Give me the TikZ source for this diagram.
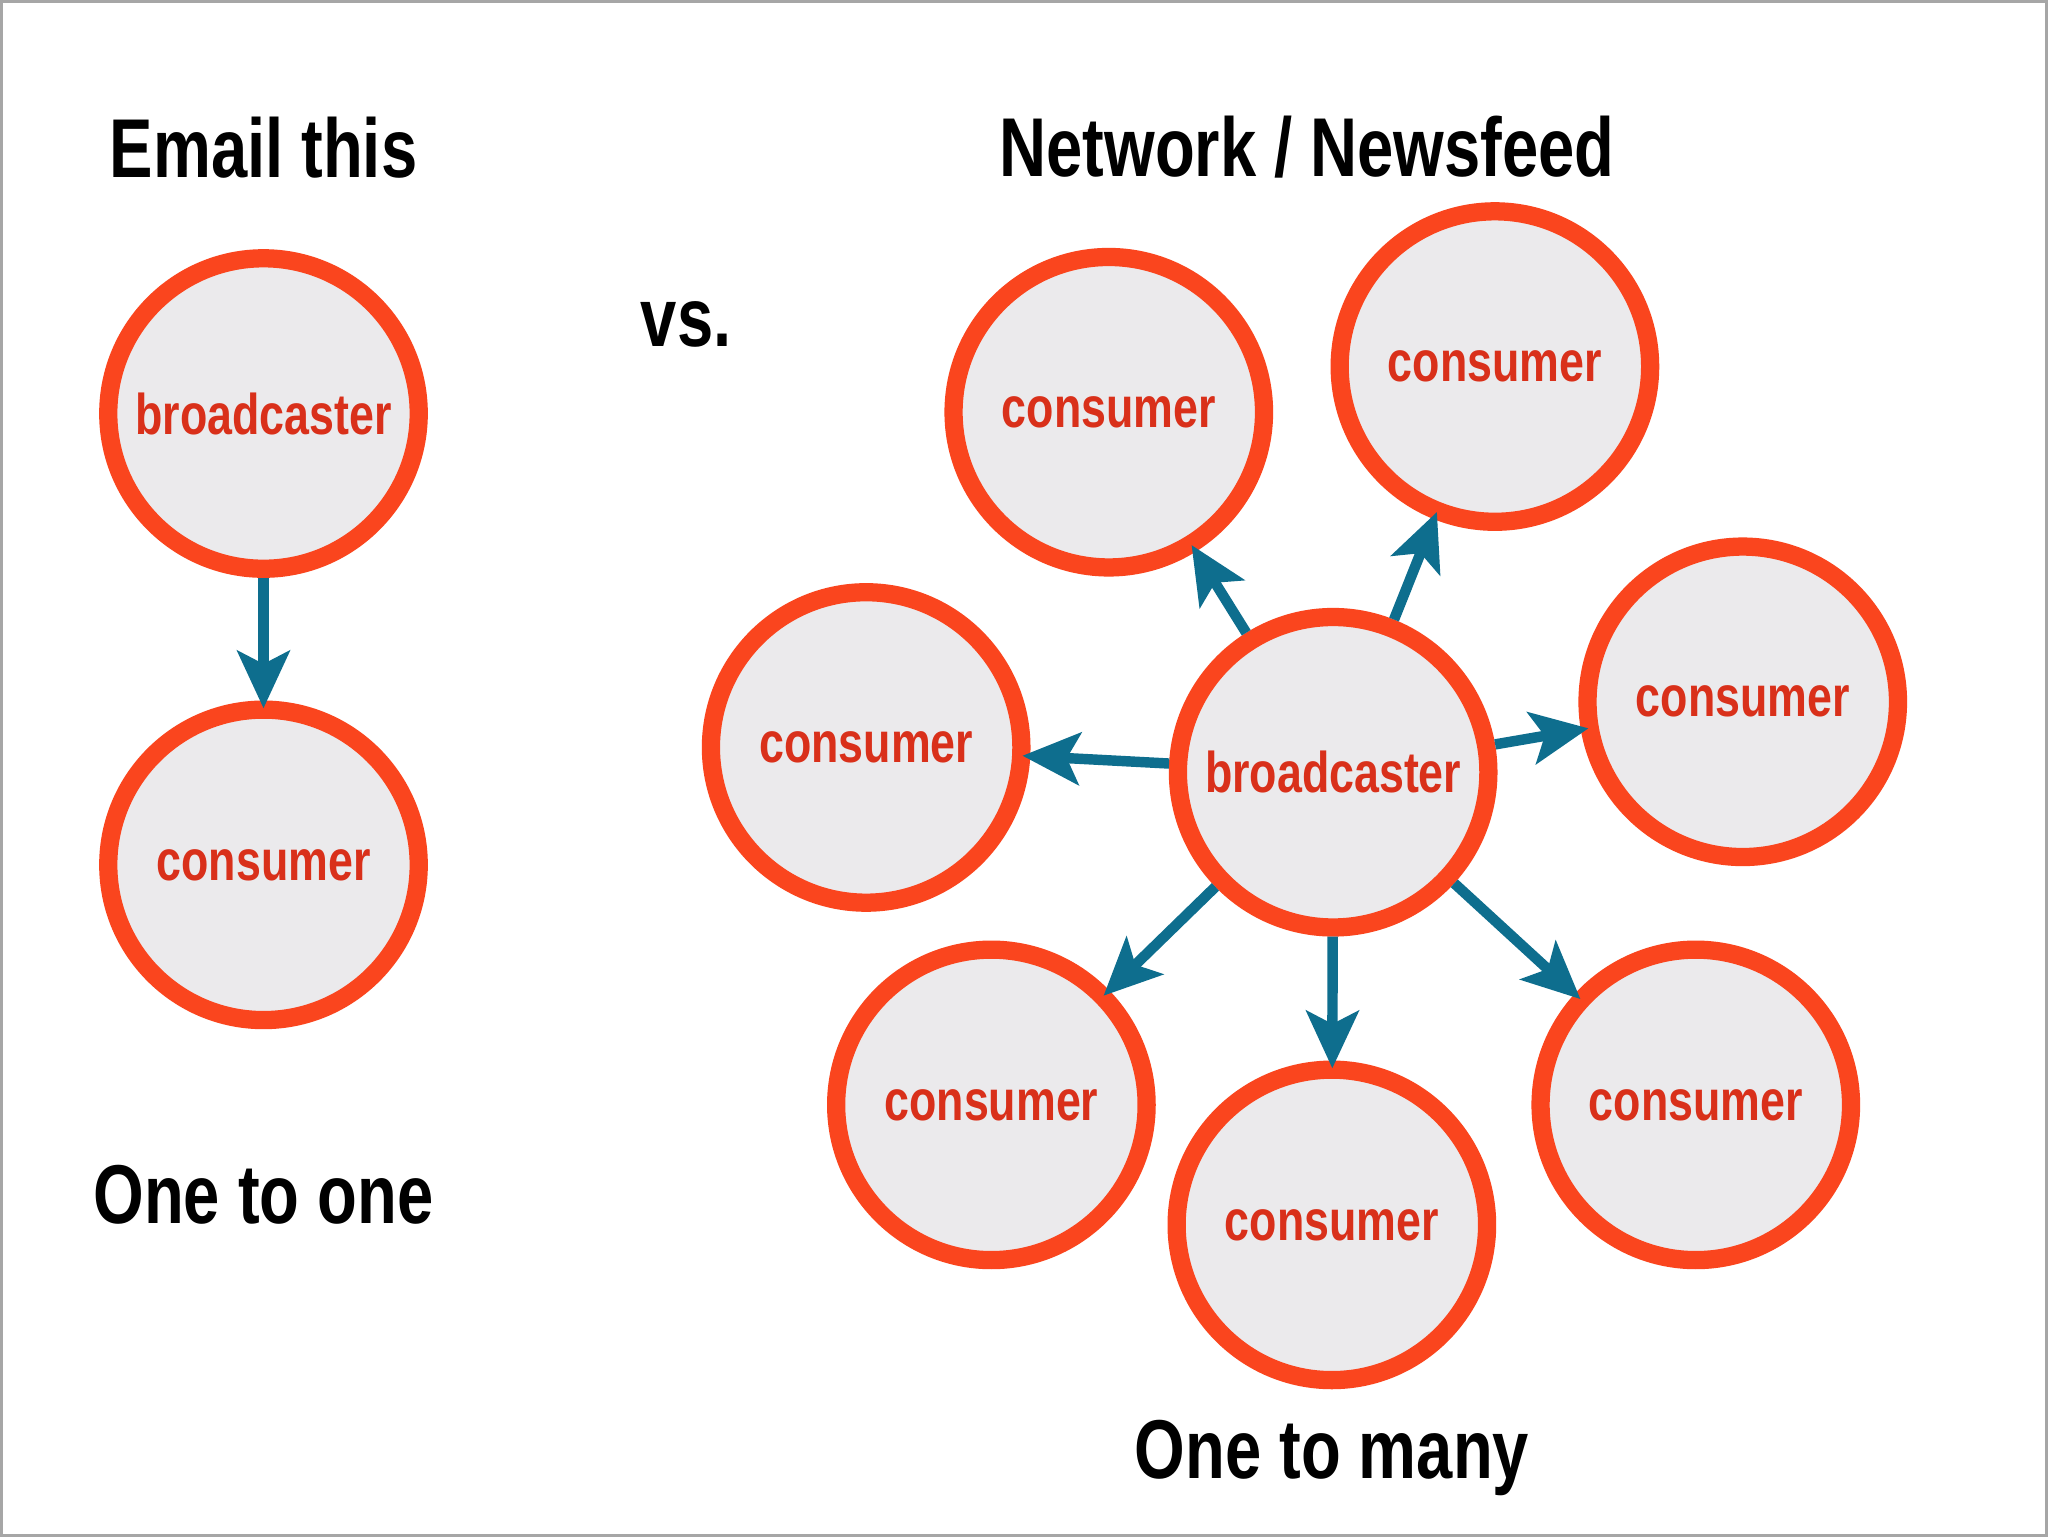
\documentclass[tikz,border=0pt]{standalone}
\usepackage{fontspec}
\setmainfont{Liberation Sans}[FakeStretch=0.78]
\usetikzlibrary{arrows.meta}
\definecolor{ring}{HTML}{FA451E}
\definecolor{fillg}{HTML}{EBEAEC}
\definecolor{lab}{HTML}{D9301A}
\definecolor{arr}{HTML}{0E6E8E}
\tikzset{
  bubble/.style={circle,draw=ring,fill=fillg,line width=7pt,minimum size=238*0.5pt,inner sep=0pt,font=\fontsize{22}{24}\selectfont\bfseries,text=lab},
  ttl/.style={font=\fontsize{32}{34}\selectfont\bfseries,text=black},
  link/.style={draw=arr,line width=4pt,-{Stealth[length=22pt,width=20pt,inset=5pt]},shorten >=-3pt}
}
\begin{document}
\begin{tikzpicture}[x=0.5pt,y=-0.5pt]
\draw[gray!70,line width=1pt,fill=white] (0,0) rectangle (1568,1176);
\node[ttl] (t1) at (201,112) {Email this};
\node[ttl] (t2) at (1001,112) {Network / Newsfeed};
\node[ttl] (vs) at (525,248) {vs.};
\node[ttl] (t3) at (201,915) {One to one};
\node[ttl] (t4) at (1020,1117) {One to many};
\node[bubble] (lb) at (201,316) {broadcaster};
\node[bubble] (lc) at (201,662) {consumer};
\node[bubble] (b) at (1021,591) {broadcaster};
\node[bubble] (c1) at (849,315) {consumer};
\node[bubble] (c2) at (1145,280) {consumer};
\node[bubble] (c3) at (1335,537) {consumer};
\node[bubble] (c4) at (663,572) {consumer};
\node[bubble] (c5) at (759,846) {consumer};
\node[bubble] (c6) at (1020,938) {consumer};
\node[bubble] (c7) at (1299,846) {consumer};
\draw[link] (lb) -- (lc);
\foreach \c in {c1,c2,c3,c4,c5,c6,c7} \draw[link] (b) -- (\c);
\end{tikzpicture}
\end{document}
